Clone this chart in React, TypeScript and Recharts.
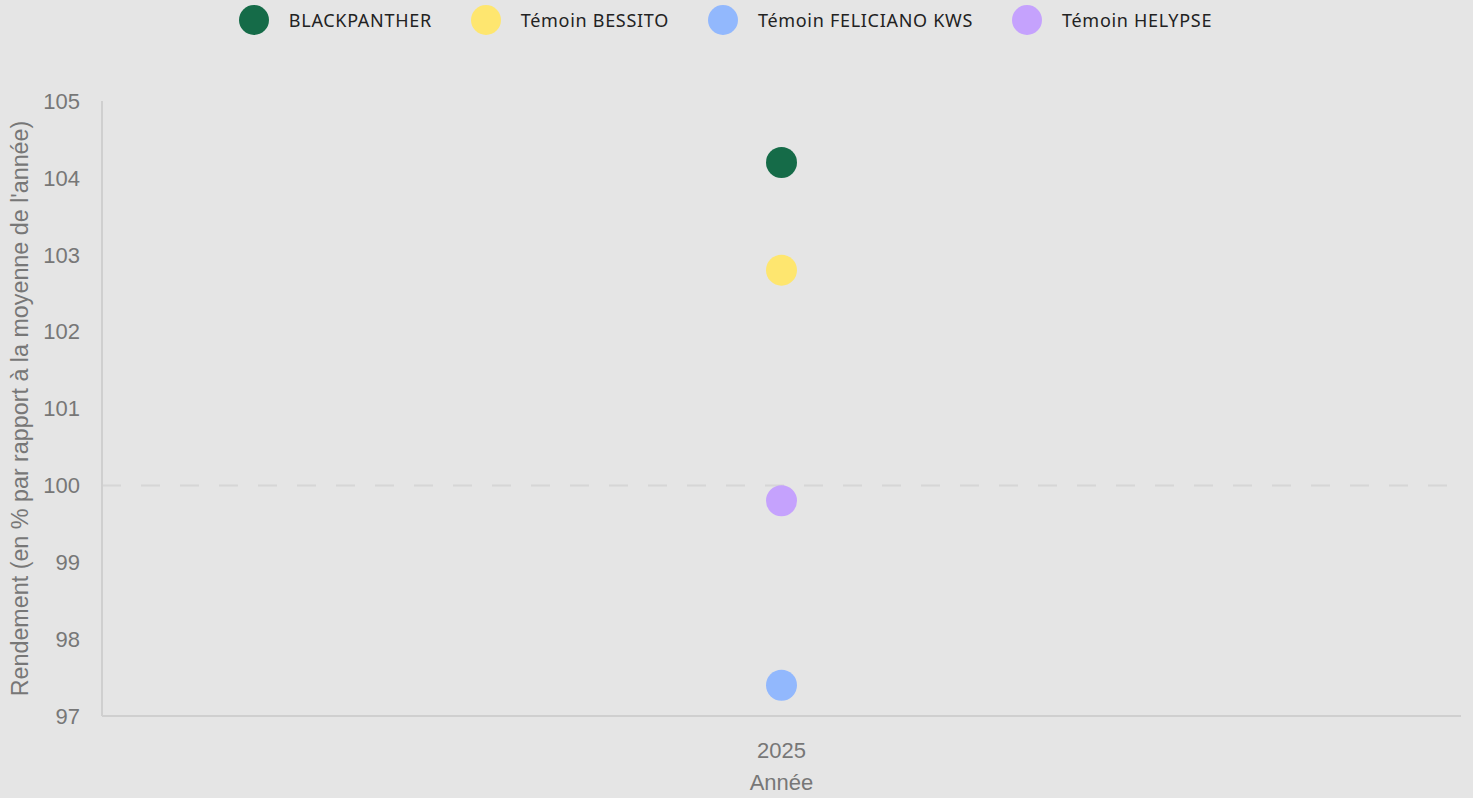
import React from 'react'
import {
  ScatterChart,
  Scatter,
  XAxis,
  YAxis,
  Legend,
  ReferenceLine,
} from 'recharts'

document.body.style.margin = '0'
document.body.style.background = '#e5e5e5'

const years = ['2025']
const varieties = ['BLACKPANTHER', 'Témoin BESSITO', 'Témoin FELICIANO KWS', 'Témoin HELYPSE']
const colors = ['#156b48', '#fee66f', '#92b8fd', '#c5a2fd']
const rendement = [104.2, 102.8, 97.4, 99.8]
const yTicks = [97, 98, 99, 100, 101, 102, 103, 104, 105]

const series = varieties.map((name, i) => ({
  name,
  color: colors[i],
  data: years.map((year) => ({ year, value: rendement[i] })),
}))

function LegendContent() {
  return (
    <div
      style={{
        display: 'flex',
        justifyContent: 'center',
        alignItems: 'center',
        gap: 39,
        fontFamily: '"Noto Sans", sans-serif',
        fontSize: 18,
        letterSpacing: 0.7,
        color: '#222',
        height: 40,
        paddingRight: 10,
      }}
    >
      {series.map((s) => (
        <div key={s.name} style={{ display: 'flex', alignItems: 'center' }}>
          <span
            style={{
              width: 30,
              height: 30,
              borderRadius: '50%',
              background: s.color,
              display: 'inline-block',
              marginRight: 20,
            }}
          />
          <span>{s.name}</span>
        </div>
      ))}
    </div>
  )
}

const Dot = (props: any) => <circle cx={props.cx} cy={props.cy} r={15.5} fill={props.fill} />

export default function App() {
  const axisFont = { fontSize: 22, fill: '#777', fontFamily: '"Liberation Sans", Arial, sans-serif' }
  return (
    <div style={{ width: 1473, height: 798, background: '#e5e5e5' }}>
      <ScatterChart width={1473} height={798} margin={{ top: 61, right: 12, bottom: 4, left: 0 }}>
        <Legend verticalAlign="top" align="center" content={<LegendContent />} wrapperStyle={{ top: 0 }} />
        <XAxis
          type="category"
          dataKey="year"
          allowDuplicatedCategory={false}
          tick={axisFont}
          tickLine={false}
          tickMargin={20}
          stroke="#cfcfcf"
          strokeWidth={2}
          height={78}
          label={{ value: 'Année', position: 'insideBottom', offset: 4, ...axisFont }}
        />
        <YAxis
          type="number"
          dataKey="value"
          domain={[97, 105]}
          ticks={yTicks}
          interval={0}
          tick={axisFont}
          tickLine={false}
          tickMargin={16}
          stroke="#cfcfcf"
          strokeWidth={2}
          width={102}
          label={{
            value: "Rendement (en % par rapport à la moyenne de l'année)",
            angle: -90,
            position: 'insideLeft',
            offset: 20,
            style: { textAnchor: 'middle' },
            ...axisFont,
            fontSize: 23.3,
          }}
        />
        <ReferenceLine y={100} stroke="#d6d6d6" strokeWidth={2} strokeDasharray="19 20" />
        {series.map((s) => (
          <Scatter
            key={s.name}
            name={s.name}
            data={s.data}
            fill={s.color}
            shape={<Dot />}
            isAnimationActive={false}
          />
        ))}
      </ScatterChart>
    </div>
  )
}
